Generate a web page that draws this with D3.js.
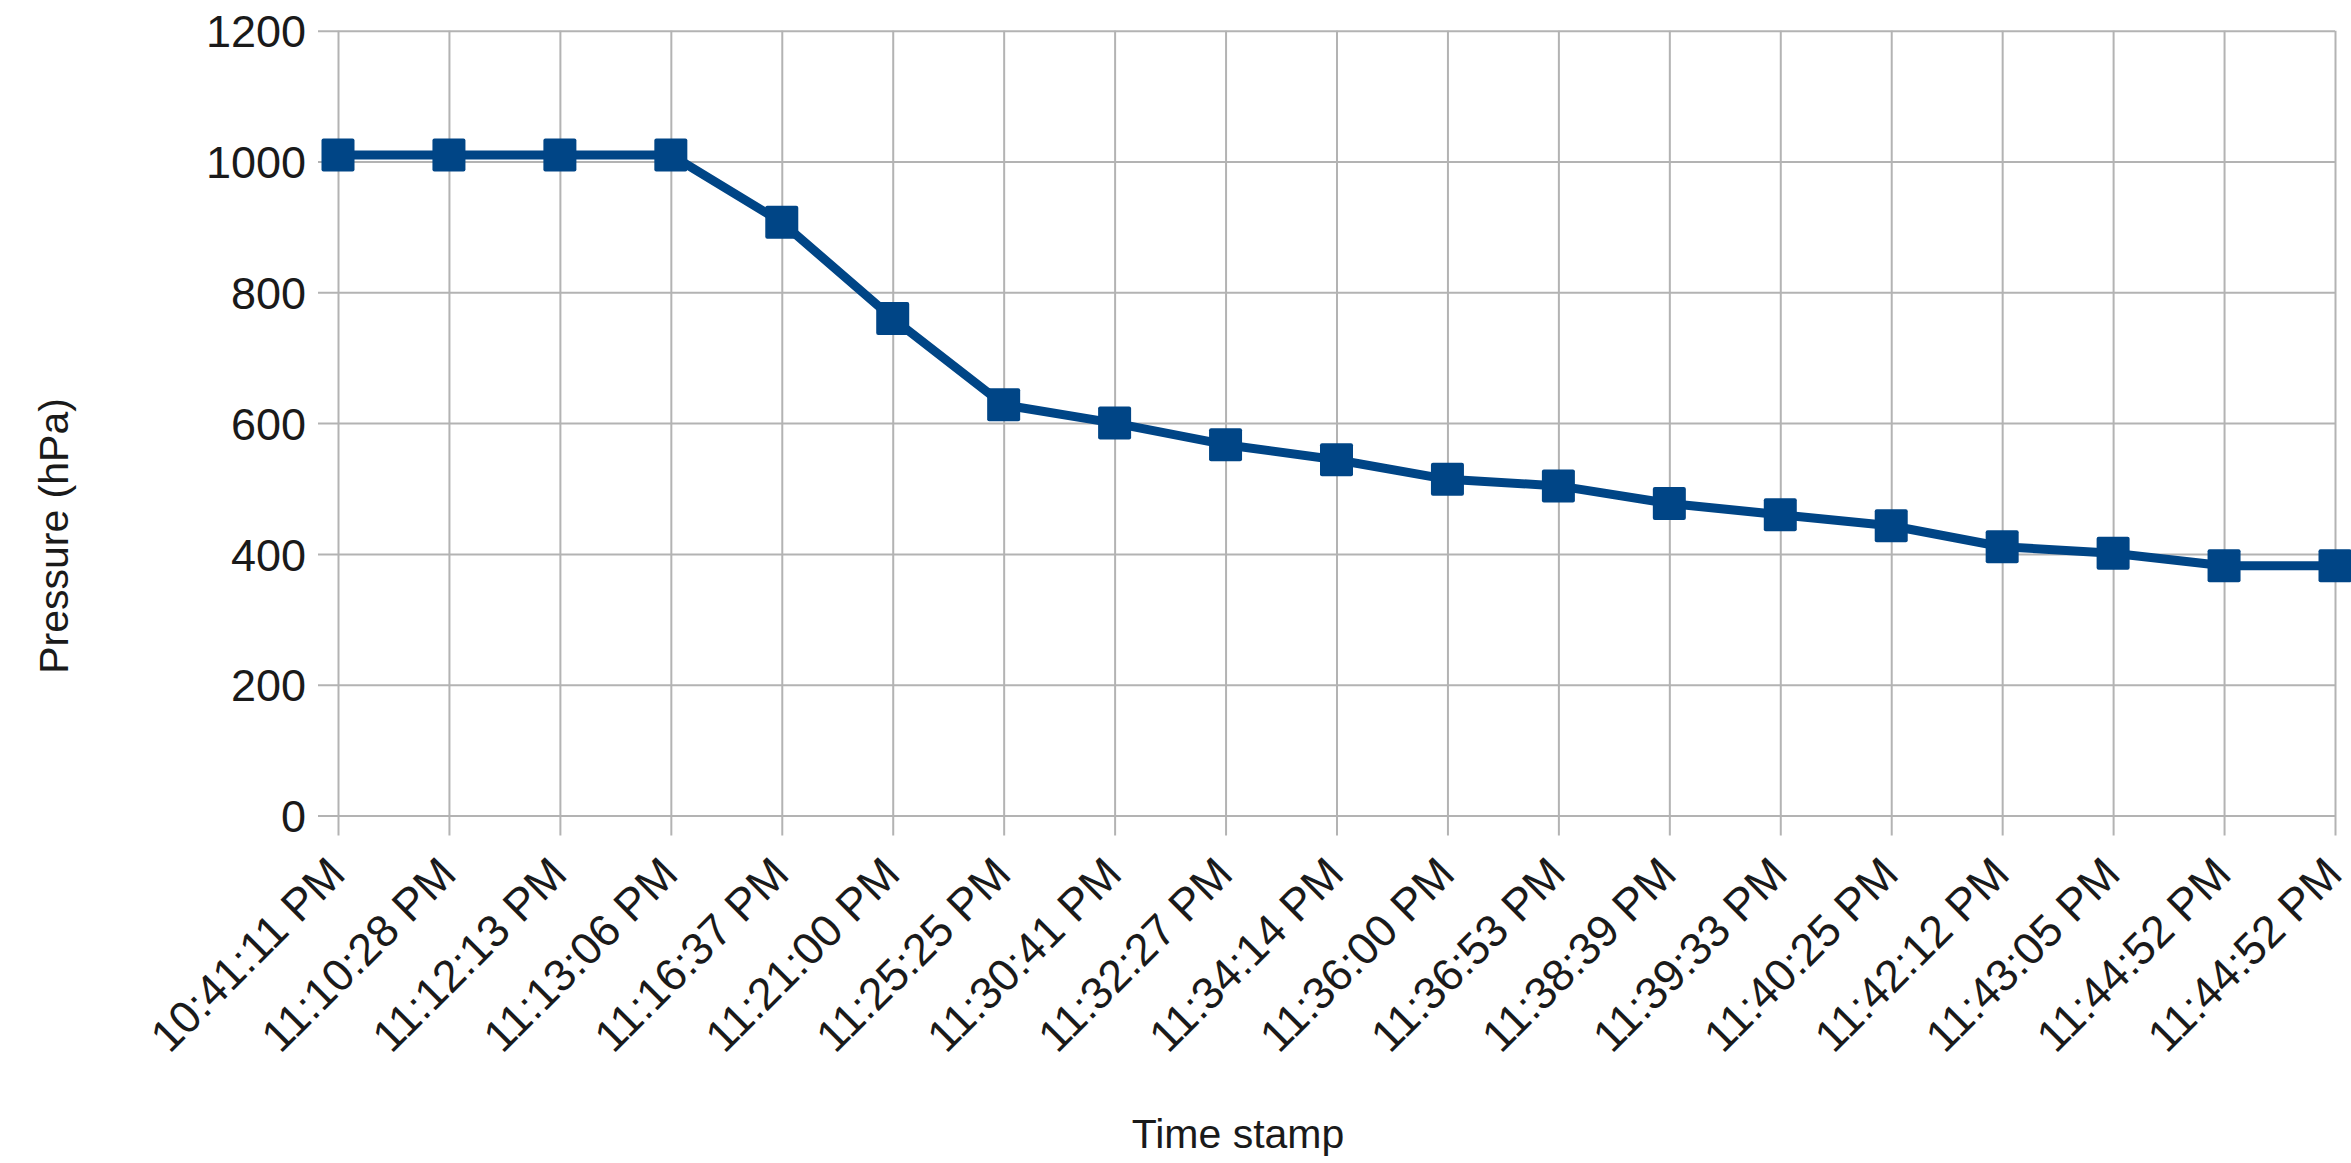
<!DOCTYPE html>
<html>
<head>
<meta charset="utf-8">
<script src="https://cdn.jsdelivr.net/npm/d3@7"></script>
<style>
  html, body { margin: 0; padding: 0; background: #fff; }
  svg { display: block; }
</style>
</head>
<body>
<svg id="chart" width="2351" height="1163"></svg>
<script>
const categories = [
  "10:41:11 PM", "11:10:28 PM", "11:12:13 PM", "11:13:06 PM", "11:16:37 PM",
  "11:21:00 PM", "11:25:25 PM", "11:30:41 PM", "11:32:27 PM", "11:34:14 PM",
  "11:36:00 PM", "11:36:53 PM", "11:38:39 PM", "11:39:33 PM", "11:40:25 PM",
  "11:42:12 PM", "11:43:05 PM", "11:44:52 PM", "11:44:52 PM"
];
const pressure = [
  1010, 1010, 1010, 1010, 907,
  760, 628, 600, 567, 544,
  514, 504, 477, 460, 443,
  411, 401, 382, 382
];
const yTicks = [0, 200, 400, 600, 800, 1000, 1200];
const xTitle = "Time stamp";
const yTitle = "Pressure (hPa)";

const svg = d3.select("#chart");
const plotLeft = 338, plotRight = 2335, plotTop = 30.7, plotBottom = 815.5;
const tickLen = 20;
const font = "'Liberation Sans', Arial, sans-serif";
const gridColor = "#b3b3b3";
const lineColor = "#004586";

const idx = categories.map((d, i) => i);
const x = d3.scalePoint().domain(idx).range([plotLeft, plotRight]).padding(0);
const y = d3.scaleLinear().domain([0, 1200]).range([plotBottom, plotTop]);

// horizontal gridlines + y ticks via axis
const yAxis = svg.append("g")
  .attr("transform", `translate(${plotRight},0)`)
  .call(d3.axisLeft(y).tickValues(yTicks).tickSize(plotRight - plotLeft + tickLen).tickPadding(12).tickFormat(d3.format("d")));
yAxis.select(".domain").remove();
yAxis.selectAll(".tick line").attr("stroke", gridColor).attr("stroke-width", 2);
yAxis.selectAll(".tick text")
  .attr("font-family", font).attr("font-size", 45).attr("fill", "#1a1a1a")
  .attr("dy", "0.36em");

// vertical gridlines + x ticks via axis
const xAxis = svg.append("g")
  .attr("transform", `translate(0,${plotBottom + tickLen})`)
  .call(d3.axisTop(x).tickSize(plotBottom + tickLen - plotTop).tickFormat(i => categories[i]));
xAxis.select(".domain").remove();
xAxis.selectAll(".tick line").attr("stroke", gridColor).attr("stroke-width", 2);
xAxis.selectAll(".tick text")
  .attr("font-family", font).attr("font-size", 45).attr("fill", "#1a1a1a")
  .attr("text-anchor", "end")
  .attr("y", 0).attr("dy", 0)
  .attr("transform", "translate(9,41) rotate(-45)");

// line
const line = d3.line().x((d, i) => x(i)).y(d => y(d));
svg.append("path")
  .datum(pressure)
  .attr("fill", "none")
  .attr("stroke", lineColor)
  .attr("stroke-width", 9)
  .attr("stroke-linejoin", "round")
  .attr("d", line);

// markers
const ms = 33;
svg.append("g").selectAll("rect")
  .data(pressure)
  .join("rect")
  .attr("x", (d, i) => x(i) - ms / 2)
  .attr("y", d => y(d) - ms / 2)
  .attr("width", ms).attr("height", ms)
  .attr("rx", 2)
  .attr("fill", lineColor);

// titles
svg.append("text")
  .attr("x", 1238).attr("y", 1148)
  .attr("text-anchor", "middle")
  .attr("font-family", font).attr("font-size", 41).attr("fill", "#1a1a1a")
  .text(xTitle);
svg.append("text")
  .attr("transform", "translate(68,536) rotate(-90)")
  .attr("text-anchor", "middle")
  .attr("font-family", font).attr("font-size", 41).attr("fill", "#1a1a1a")
  .text(yTitle);
</script>
</body>
</html>
